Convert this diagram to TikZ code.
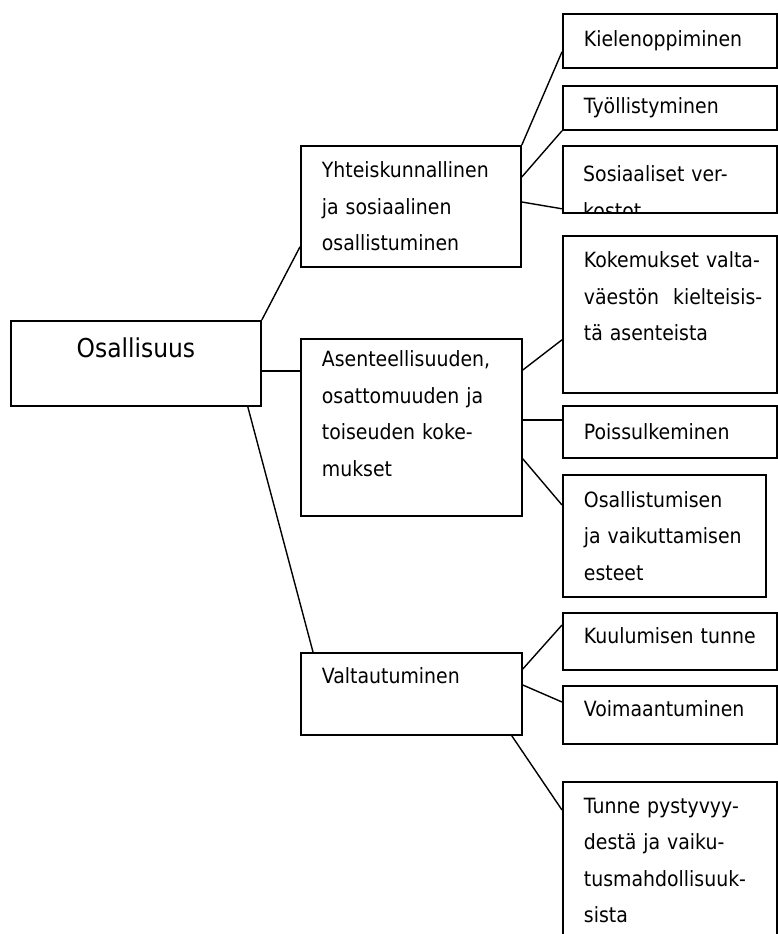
\documentclass[tikz,border=0pt]{standalone}
\usepackage{fontspec}
\setmainfont{DejaVu Sans}[FakeStretch=0.9]
\usetikzlibrary{calc}
\tikzset{
  font=\fontsize{21}{36.5}\selectfont,
  link/.style={draw=black,line width=1.4pt},
  rootbox/.style={rectangle,draw=black,line width=1.8pt,anchor=north west,
    align=center,inner sep=0pt,font=\fontsize{26}{32}\selectfont},
  itembox/.style={rectangle,draw=black,line width=1.8pt,anchor=north west,
    align=left,inner sep=0pt,execute at begin node={\leftskip=21pt\relax}},
  itemtext/.style={inner sep=0pt,align=left,anchor=base west},
}
\begin{document}
\begin{tikzpicture}[x=1pt,y=-1pt]

\useasboundingbox[fill=white] (0,0) rectangle (777,934);

% root and the three main themes
\node[rootbox,text width=250pt,minimum height=85pt] (root) at (10,320) {Osallisuus\\\mbox{}};

\node[itembox,text width=220pt,minimum height=121pt] (yht) at (300,145)
  {Yhteiskunnallinen\\ja sosiaalinen\\osallistuminen};
\node[itembox,text width=221pt,minimum height=177pt] (ase) at (300,338)
  {Asenteellisuuden,\\osattomuuden ja\\toiseuden koke-\\mukset\\[-9pt]\mbox{}};
\node[itembox,text width=221pt,minimum height=82pt] (val) at (300,652)
  {Valtautuminen\\\mbox{}};

% sub-themes
\node[itembox,text width=214pt,minimum height=54pt] (kie) at (562,13) {Kielenoppiminen};
\node[itembox,text width=214pt,minimum height=44pt] (tyo) at (562,85) {Työllistyminen};
\node[itembox,text width=214pt,minimum height=67pt] (sos) at (562,145) {};
\begin{scope}
  \clip (sos.north west) rectangle (sos.south east);
  \node[itemtext,text width=193pt] (sostxt) at ([shift={(21pt,-36.5pt)}]sos.north west)
    {Sosiaaliset ver-\\kostot};
\end{scope}

\node[itembox,text width=214pt,minimum height=157pt] (kok) at (562,235)
  {Kokemukset valta-\\väestön~~kielteisis-\\tä asenteista\\\mbox{}};
\node[itembox,text width=214pt,minimum height=52pt] (poi) at (562,405) {Poissulkeminen};
\node[itembox,text width=203pt,minimum height=122pt] (osa) at (562,474)
  {Osallistumisen\\ja vaikuttamisen\\esteet};

\node[itembox,text width=214pt,minimum height=57pt] (kuu) at (562,612)
  {Kuulumisen tunne\\[-24pt]\mbox{}};
\node[itembox,text width=214pt,minimum height=58pt] (voi) at (562,685)
  {Voimaantuminen\\[-24pt]\mbox{}};
\node[itembox,text width=214pt,minimum height=157pt] (tun) at (562,781)
  {Tunne pystyvyy-\\destä ja vaiku-\\tusmahdollisuuk-\\sista};

% connectors
\draw[link] (root.north east) -- ([yshift=21pt]yht.south west);
\draw[link] ([yshift=-51pt]root.north east) coordinate (r2) -- (r2 -| ase.west);
\draw[link] ([xshift=-14pt]root.south east) -- ([xshift=13pt]val.north west);

\draw[link] (yht.north east) -- ([yshift=17pt]kie.south west);
\draw[link] ([yshift=-32pt]yht.north east) -- (tyo.south west);
\draw[link] ([yshift=-57pt]yht.north east) -- ([yshift=5pt]sos.south west);

\draw[link] ([yshift=-32pt]ase.north east) -- ([yshift=54pt]kok.south west);
\draw[link] ([yshift=-82pt]ase.north east) coordinate (a2) -- (a2 -| poi.west);
\draw[link] ([yshift=58pt]ase.south east) -- ([yshift=-31pt]osa.north west);

\draw[link] ([yshift=-17pt]val.north east) -- ([yshift=-13pt]kuu.north west);
\draw[link] ([yshift=-33pt]val.north east) -- ([yshift=-17pt]voi.north west);
\draw[link] ([xshift=-11pt]val.south east) -- ([yshift=-29pt]tun.north west);

\end{tikzpicture}
\end{document}
